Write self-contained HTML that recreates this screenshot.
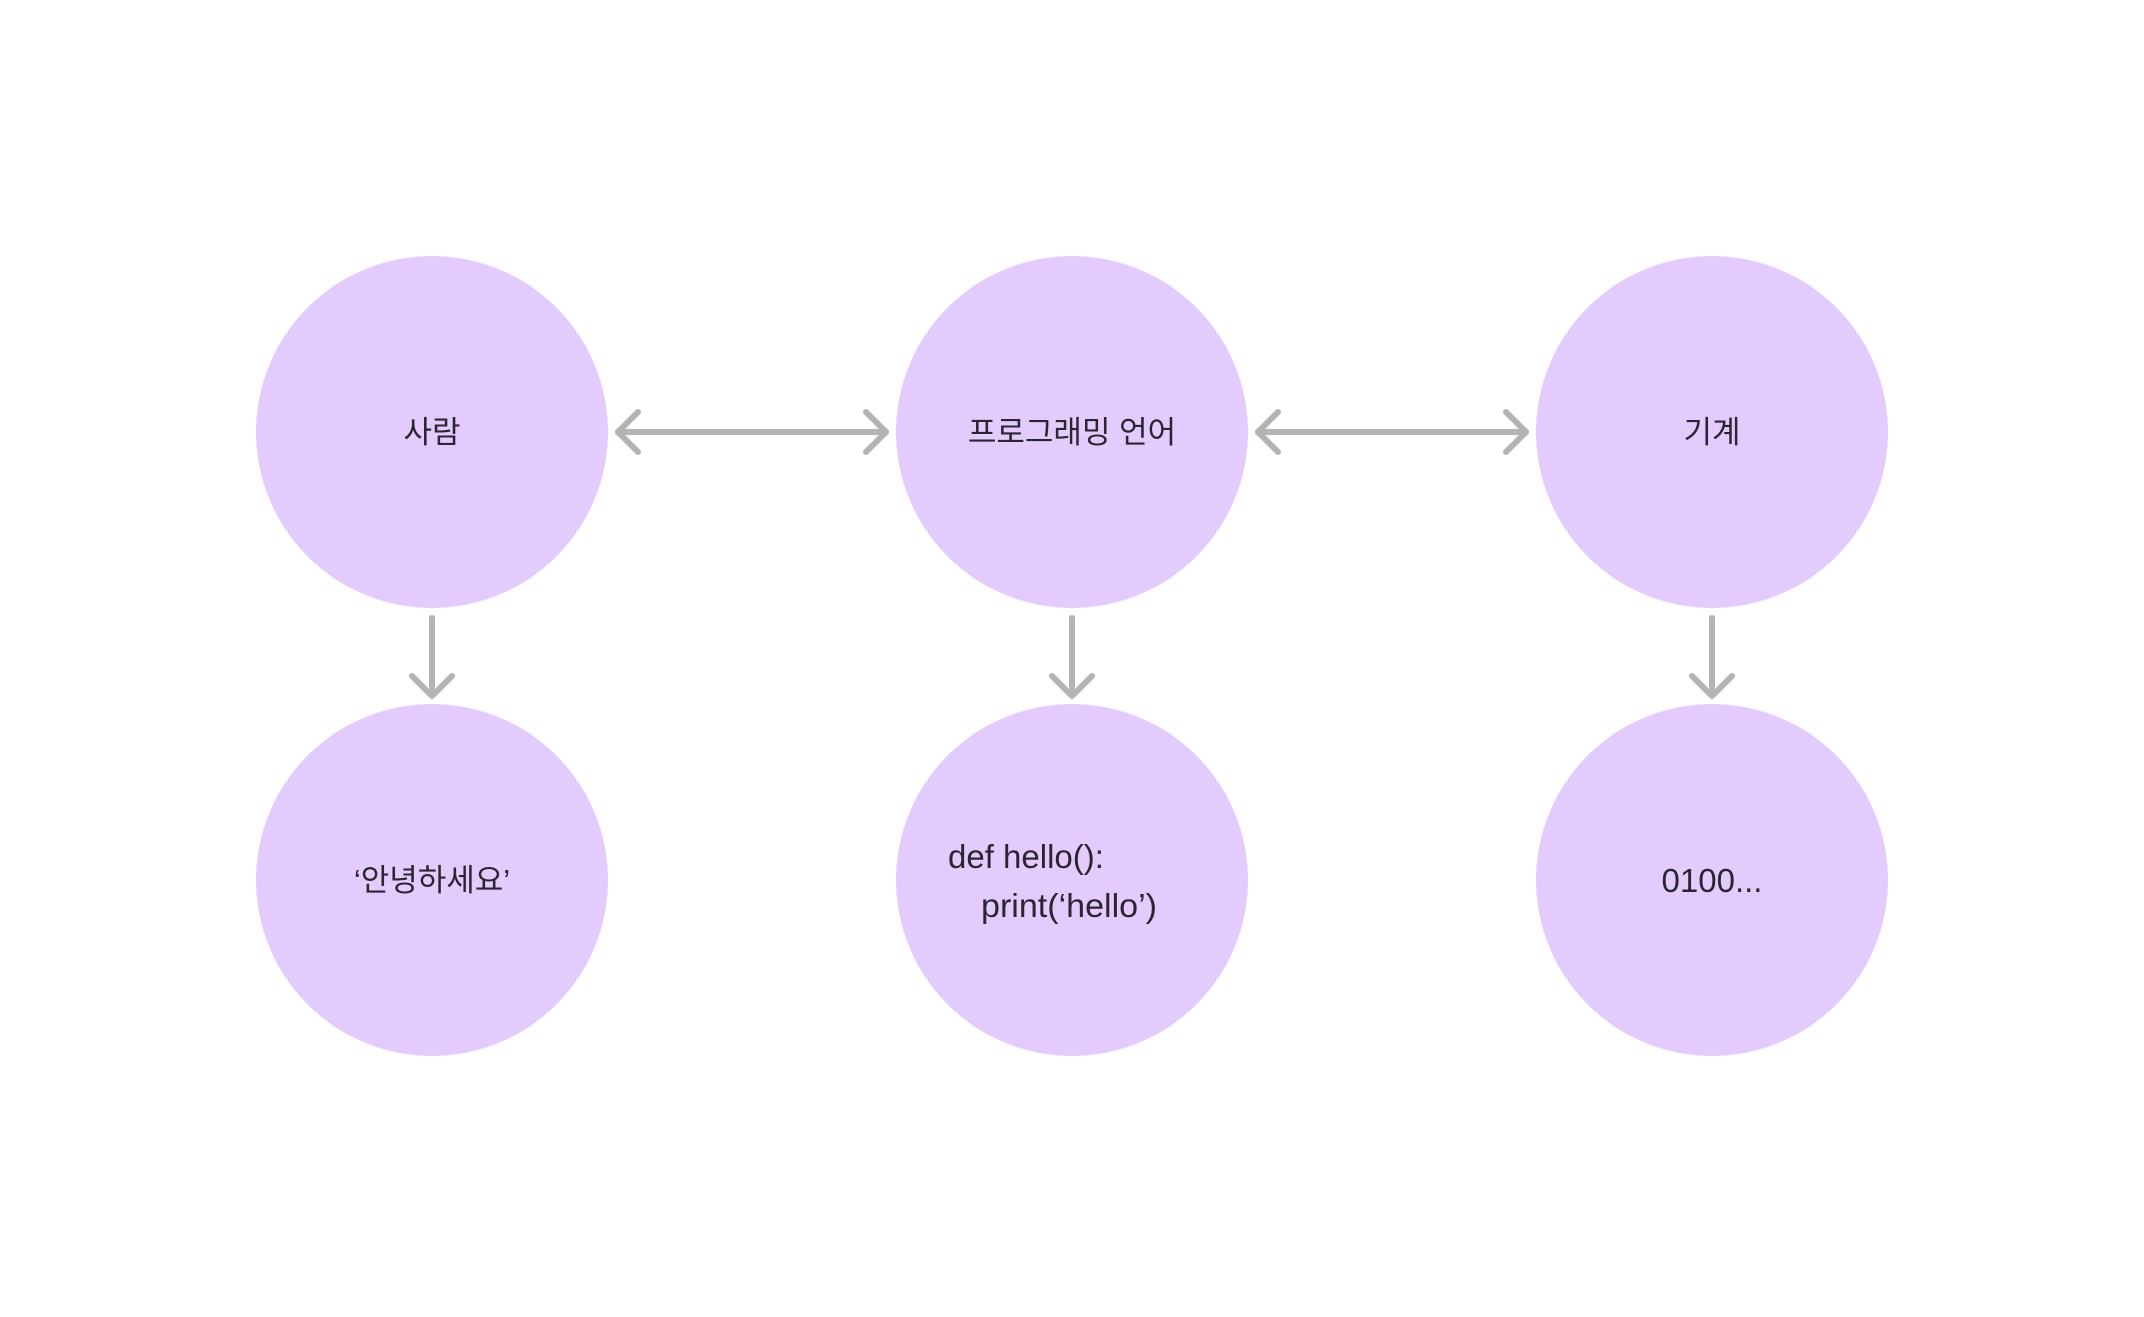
<!DOCTYPE html>
<html><head><meta charset="utf-8"><style>
html,body{margin:0;padding:0;background:#fff;}
svg text{font-family:"Liberation Sans","Noto Sans CJK KR",sans-serif;fill:#2b2531;}
</style></head><body>
<svg width="2144" height="1312" viewBox="0 0 2144 1312" xmlns="http://www.w3.org/2000/svg">
<g fill="#e3ccfd">
<circle cx="432" cy="432" r="176"/><circle cx="1072" cy="432" r="176"/><circle cx="1712" cy="432" r="176"/>
<circle cx="432" cy="880" r="176"/><circle cx="1072" cy="880" r="176"/><circle cx="1712" cy="880" r="176"/>
</g>
<g stroke="#b3b3b3" stroke-width="6" fill="none" stroke-linecap="round" stroke-linejoin="round">
<line x1="618" y1="432" x2="886" y2="432"/><polyline points="638,412 618,432 638,452"/><polyline points="866,412 886,432 866,452"/>
<line x1="1258" y1="432" x2="1526" y2="432"/><polyline points="1278,412 1258,432 1278,452"/><polyline points="1506,412 1526,432 1506,452"/>
<line x1="432" y1="618" x2="432" y2="694"/><polyline points="412,676 432,696 452,676"/>
<line x1="1072" y1="618" x2="1072" y2="694"/><polyline points="1052,676 1072,696 1092,676"/>
<line x1="1712" y1="618" x2="1712" y2="694"/><polyline points="1692,676 1712,696 1732,676"/>
</g>
<g font-size="31" text-anchor="middle">
<text x="432" y="443">사람</text>
<text x="1072" y="443">프로그래밍 언어</text>
<text x="1712" y="443">기계</text>
<text x="432" y="891">‘안녕하세요’</text>
<text x="1712" y="892" font-size="33">0100...</text>
</g>
<text x="948" y="868" font-size="33">def hello():</text>
<text x="981" y="917" font-size="33" textLength="176" lengthAdjust="spacingAndGlyphs">print(‘hello’)</text>
</svg>
</body></html>
